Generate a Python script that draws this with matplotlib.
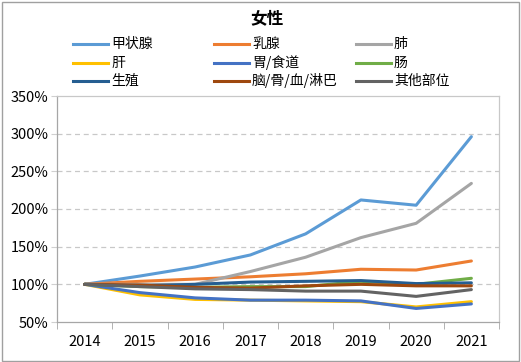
import matplotlib
matplotlib.use("Agg")
import matplotlib.pyplot as plt
from matplotlib.lines import Line2D
from matplotlib.patches import Rectangle

plt.rcParams['font.family'] = ['Noto Sans CJK SC', 'DejaVu Sans']

# data (index, 2014 = 100%)
years = ['2014', '2015', '2016', '2017', '2018', '2019', '2020', '2021']
series_names = ['甲状腺', '乳腺', '肺', '肝', '胃/食道', '肠', '生殖', '脑/骨/血/淋巴', '其他部位']
thyroid = [100, 111, 123, 139, 167, 212, 205, 296]
breast = [100, 104, 107, 110, 114, 120, 119, 131]
lung = [100, 100, 100, 117, 136, 162, 181, 234]
liver = [100, 86, 80, 79, 78, 77, 70, 77]
stomach = [100, 89, 82, 79, 79, 78, 68, 74]
bowel = [100, 97, 96, 97, 97, 104, 100, 108]
genital = [100, 98, 100, 103, 104, 105, 101, 102]
brain_blood = [100, 99, 96, 95, 98, 100, 98, 98]
other = [100, 97, 94, 93, 91, 91, 84, 93]
y_ticks = [50, 100, 150, 200, 250, 300, 350]

values = [thyroid, breast, lung, liver, stomach, bowel, genital, brain_blood, other]
colors = ['#5B9BD5', '#ED7D31', '#A5A5A5', '#FFC000', '#4472C4',
          '#70AD47', '#255E91', '#9E480E', '#636363']

W, H = 521, 362
fig = plt.figure(figsize=(W / 100, H / 100), dpi=100)
ax = fig.add_axes([57 / W, 1 - 322 / H, 442 / W, 226 / H])

x = list(range(len(years)))
for name, vals, c in zip(series_names, values, colors):
    ax.plot(x, vals, color=c, lw=2.2, label=name, solid_capstyle='round')

ax.set_xlim(-0.5, len(years) - 0.5)
ax.set_ylim(50, 350)
ax.set_yticks(y_ticks)
ax.set_yticklabels([f'{v}%' for v in y_ticks], fontsize=10.5)
ax.set_xticks(x)
ax.set_xticklabels(years, fontsize=10.5)
ax.set_xticks([i - 0.5 for i in range(len(years) + 1)], minor=True)
ax.tick_params(axis='x', which='major', length=0, pad=9)
ax.tick_params(axis='x', which='minor', length=5, color='#a6a6a6')
ax.tick_params(axis='y', length=4, color='#d0d0d0', pad=2)

for v in y_ticks[1:-1]:
    ax.axhline(v, color='#c8c8c8', lw=0.9, ls=(0, (4, 3)), zorder=0)

for side in ['top', 'right']:
    ax.spines[side].set_color('#c8c8c8')
    ax.spines[side].set_linewidth(0.9)
for side in ['left', 'bottom']:
    ax.spines[side].set_color('#a6a6a6')
    ax.spines[side].set_linewidth(0.9)

# title
fig.text(267 / W, 1 - 18 / H, '女性', ha='center', va='center',
         fontsize=12, fontweight='bold')

# legend, laid out row by row like the original
col_x = [73, 214, 356]
row_y = [44, 63, 81]
for i, (name, c) in enumerate(zip(series_names, colors)):
    cx = col_x[i % 3]
    ry = 1 - row_y[i // 3] / H
    fig.add_artist(Line2D([cx / W, (cx + 35) / W], [ry, ry], color=c, lw=2.2,
                          transform=fig.transFigure))
    fig.text((cx + 38) / W, ry, name, ha='left', va='center', fontsize=10)

# chart border
fig.add_artist(Rectangle((1.5 / W, 1.5 / H), (W - 3.5) / W, (H - 3.5) / H,
                         transform=fig.transFigure, fill=False,
                         edgecolor='#a0a0a0', lw=1.0))

fig.savefig('out.png', dpi=100)
